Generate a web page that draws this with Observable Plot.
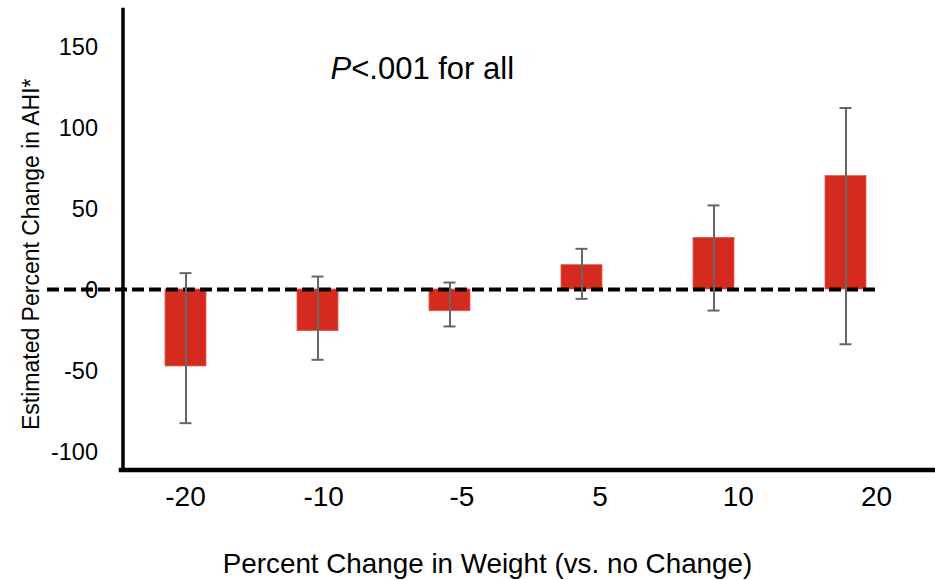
<!DOCTYPE html>
<html>
<head>
<meta charset="utf-8">
<script src="https://cdn.jsdelivr.net/npm/d3@7"></script>
<script src="https://cdn.jsdelivr.net/npm/@observablehq/plot@0.6"></script>
<style>
  html, body { margin: 0; padding: 0; background: #fff; }
  #chart svg { display: block; font-family: "Liberation Sans", Arial, sans-serif; }
</style>
</head>
<body>
<div id="chart"></div>
<script>
const categories = ["-20", "-10", "-5", "5", "10", "20"];
const estimates  = [-47.5, -25.7, -13.4, 15.0, 31.8, 70.0];
const lowerCI    = [-82.5, -43.4, -22.8, -5.8, -13.0, -33.8];
const upperCI    = [10.1, 8.0, 4.3, 25.1, 51.9, 112.0];
const yTicks     = [-100, -50, 0, 50, 100, 150];
const yLabel     = "Estimated Percent Change in AHI*";
const xLabel     = "Percent Change in Weight (vs. no Change)";
const note       = "P<.001 for all";

const data = categories.map((c, i) => ({cat: c, est: estimates[i], lo: lowerCI[i], hi: upperCI[i]}));

const W = 935, H = 580;
const font = "Liberation Sans, Arial, sans-serif";

const plot = Plot.plot({
  width: W,
  height: H,
  marginLeft: 122.5,
  marginRight: 26,
  marginTop: 9,
  marginBottom: 110.5,
  style: {fontFamily: font, background: "#fff"},
  x: {type: "band", domain: categories, paddingInner: 0.69, paddingOuter: 0.3175, axis: null},
  y: {domain: [-111.4, 172.8], ticks: yTicks, label: null},
  marks: [
    Plot.barY(data, {x: "cat", y: "est", fill: "#d52b1e", stroke: "#e25a50", strokeWidth: 0.8}),
    Plot.ruleY([0], {stroke: "#000", strokeWidth: 4, strokeDasharray: "12,5", insetLeft: -75.5, insetRight: 34}),
    Plot.ruleX(data, {x: "cat", y1: "lo", y2: "hi", stroke: "#666", strokeWidth: 2}),
    Plot.tickY(data, {x: "cat", y: "lo", stroke: "#666", strokeWidth: 2, inset: 14.5}),
    Plot.tickY(data, {x: "cat", y: "hi", stroke: "#666", strokeWidth: 2, inset: 14.5}),
    Plot.axisY({ticks: yTicks, tickSize: 0, tickPadding: 25, fontSize: 23.5, label: null, fill: "#000",
                dy: 1, tickFormat: d => String(d)}),
    Plot.frame({anchor: "left", stroke: "#000", strokeWidth: 3.5}),
    Plot.frame({anchor: "bottom", stroke: "#000", strokeWidth: 4.5, insetLeft: -2, insetRight: -26}),
    Plot.text(categories, {
      x: d => d, text: d => d, frameAnchor: "bottom", lineAnchor: "middle",
      dy: 27.5, fontSize: 28, fill: "#000",
      render(index, scales, values, dims, ctx, next) {
        const xs = values.x;
        const x0 = xs[index[0]];
        const nx = Array.from(xs, v => x0 - 0.5 + (v - x0) * 1.047);
        return next(index, scales, {...values, x: nx}, dims, ctx);
      }
    }),
    Plot.text([yLabel], {
      text: d => d, frameAnchor: "left", textAnchor: "middle", rotate: -90, dx: -91, dy: 14.5,
      fontSize: 23, fill: "#000", lineAnchor: "middle"
    }),
    Plot.text([xLabel], {
      text: d => d, frameAnchor: "bottom", textAnchor: "middle", dx: -28.75, dy: 94,
      fontSize: 27.8, fill: "#000", lineAnchor: "middle"
    }),
    Plot.text([note], {
      text: d => d, frameAnchor: "top-left", textAnchor: "start", lineAnchor: "bottom",
      dx: 207.5, dy: 69, fontSize: 31, fill: "#000"
    })
  ]
});

// italicize the leading "P" of the note
d3.select(plot).selectAll("text").each(function() {
  const t = d3.select(this);
  if (this.textContent === note) {
    t.text(null);
    t.append("tspan").attr("font-style", "italic").text(note.slice(0, 1));
    t.append("tspan").text(note.slice(1));
  }
});

document.getElementById("chart").appendChild(plot);
</script>
</body>
</html>
